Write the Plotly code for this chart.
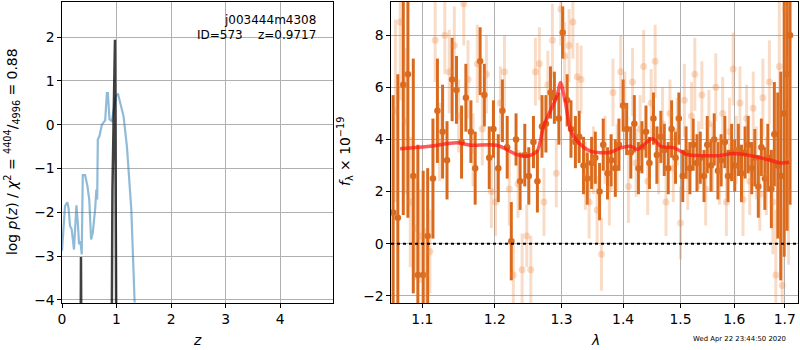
import plotly.graph_objects as go

# ---------------- data: left panel (redshift p(z)) ----------------
pz_z = [0.0, 0.055, 0.098, 0.12, 0.147, 0.178, 0.22, 0.24, 0.264, 0.29, 0.313, 0.338, 0.362,
        0.381, 0.424, 0.466, 0.50, 0.516, 0.534, 0.565, 0.608, 0.63, 0.645, 0.657, 0.687,
        0.731, 0.792, 0.823, 0.841, 0.871, 0.915, 0.95, 0.99, 1.025, 1.068, 1.129, 1.19,
        1.234, 1.271, 1.332]
pz_logp = [-2.88, -1.86, -1.77, -1.90, -2.31, -2.39, -2.85, -2.46, -1.84, -2.24, -2.73, -2.66, -2.96,
           -1.15, -1.15, -1.40, -1.71, -2.16, -2.62, -2.46, -1.93, -1.48, -1.71, -0.34, -0.26,
           0.0, 0.10, 0.72, 0.72, 0.12, 0.08, 0.35, 0.65, 0.71, 0.50, 0.19, -0.49,
           -1.25, -1.93, -4.06]

fine_z = [0.343, 0.348, 0.353, None, 0.913, 0.925, 0.9717, 0.986, 0.995]
fine_logp = [-4.6, -3.02, -4.6, None, -4.6, -1.5, 1.94, -1.5, -4.6]

# ---------------- data: right panel (spectrum) ----------------
wave_a = [1.062, 1.068, 1.075, 1.081, 1.088, 1.094, 1.101, 1.107, 1.114, 1.120, 1.127, 1.133,
          1.140, 1.146, 1.153, 1.159, 1.166, 1.172, 1.179, 1.185, 1.192, 1.198, 1.205, 1.211,
          1.218, 1.224, 1.231, 1.237, 1.244, 1.250, 1.257, 1.263, 1.270, 1.276, 1.283, 1.289,
          1.296, 1.302, 1.309, 1.315, 1.322, 1.328, 1.335, 1.341, 1.348, 1.354, 1.361, 1.367,
          1.374, 1.380, 1.387, 1.393, 1.400, 1.406, 1.413, 1.419, 1.426, 1.432, 1.439, 1.445,
          1.452, 1.458, 1.465, 1.471, 1.478, 1.484, 1.491, 1.497, 1.504, 1.510, 1.517, 1.523,
          1.530, 1.536, 1.543, 1.549, 1.556, 1.562, 1.569, 1.575, 1.582, 1.588, 1.595, 1.601,
          1.608, 1.614, 1.621, 1.627, 1.634, 1.640, 1.647, 1.653, 1.660, 1.666, 1.673, 1.679,
          1.686, 1.692, 1.699, 1.705, 1.711]
flux_a = [1.2, 1.0, 6.1, 6.5, 2.6, -1.2, -1.2, 0.3, 2.5, 5.1, 4.3, 3.2,
          6.3, 5.9, 3.9, 5.6, 4.3, 2.9, 7.0, 5.7, 3.3, 4.4, 2.9, 5.1,
          3.7, 0.1, 4.0, 2.4, 3.4, 2.6, 3.9, 2.4, 4.5, 4.6, 5.8, 5.6,
          4.8, 8.1, 5.5, 4.4, 3.9, 4.1, 3.0, 2.5, 3.1, 3.3, 2.0, 3.8,
          2.7, 3.2, 2.9, 3.8, 5.3, 4.4, 3.5, 4.6, 2.9, 3.7, 4.3, 3.1,
          4.8, 3.4, 4.1, 3.6, 2.9, 4.4, 3.3, 4.8, 2.6, 3.5, 2.9, 3.8,
          3.1, 3.3, 2.6, 3.8, 3.0, 4.0, 2.8, 3.2, 3.9, 2.6, 3.5, 3.0,
          3.6, 2.7, 3.5, 3.8, 2.9, 3.3, 2.2, 3.7, 2.5, 3.3, 2.1, 4.2,
          3.0, 2.6, 5.0, 6.5, 8.0]
err_a = [4.5, 5.5, 5.0, 5.5, 4.5, 5.0, 4.0, 2.6, 2.3, 2.0, 1.8, 1.5,
         1.6, 1.3, 1.4, 1.3, 1.2, 1.4, 1.3, 1.2, 1.2, 1.1, 1.3, 1.2,
         1.2, 1.5, 1.0, 1.1, 1.2, 1.1, 1.0, 1.2, 1.2, 1.1, 1.0, 1.0,
         1.0, 1.0, 1.0, 1.1, 1.0, 1.0, 1.1, 1.0, 1.0, 1.0, 1.1, 1.0,
         1.0, 1.0, 1.1, 1.0, 1.0, 1.0, 1.0, 1.1, 1.0, 1.0, 1.0, 1.0,
         1.0, 1.1, 1.0, 1.0, 1.0, 1.1, 1.0, 1.0, 1.0, 1.0, 1.0, 1.0,
         1.1, 1.0, 1.0, 1.1, 1.0, 1.0, 1.1, 1.0, 1.0, 1.0, 1.1, 1.0,
         1.0, 1.1, 1.0, 1.1, 1.0, 1.1, 1.2, 1.1, 1.2, 1.3, 1.5, 2.0,
         2.8, 4.0, 5.5, 6.0, 6.5]

wave_b = [1.065, 1.071, 1.078, 1.084, 1.091, 1.097, 1.104, 1.110, 1.117, 1.123, 1.130, 1.136,
          1.143, 1.149, 1.156, 1.162, 1.169, 1.175, 1.182, 1.188, 1.195, 1.201, 1.208, 1.214,
          1.221, 1.227, 1.234, 1.240, 1.247, 1.253, 1.260, 1.266, 1.273, 1.279, 1.286, 1.292,
          1.299, 1.305, 1.312, 1.318, 1.325, 1.331, 1.338, 1.344, 1.351, 1.357, 1.364, 1.370,
          1.377, 1.383, 1.390, 1.396, 1.403, 1.409, 1.416, 1.422, 1.429, 1.435, 1.442, 1.448,
          1.455, 1.461, 1.468, 1.474, 1.481, 1.487, 1.494, 1.500, 1.507, 1.513, 1.520, 1.526,
          1.533, 1.539, 1.546, 1.552, 1.559, 1.565, 1.572, 1.578, 1.585, 1.591, 1.598, 1.604,
          1.611, 1.617, 1.624, 1.630, 1.637, 1.643, 1.650, 1.656, 1.663, 1.669, 1.676, 1.682,
          1.689, 1.695, 1.702, 1.708]
flux_b = [5.1, 8.5, 4.7, 1.6, 0.6, 0.3, -1.2, -0.3, 7.8, 3.9, 8.0, 6.6,
          7.6, 4.9, 9.2, 6.3, 3.6, 6.9, 4.4, 6.5, 2.0, 1.6, 5.4, 6.6,
          2.1, -1.2, 2.3, -1.0, 0.3, -1.0, 6.6, 6.9, 1.6, 6.1, 7.8, 2.7,
          9.0, 7.2, 7.6, 8.5, 6.4, 6.3, 2.6, 1.6, 3.2, 1.3, -0.4, 3.6,
          2.1, 5.8, 3.3, 6.6, 5.2, 2.2, 6.2, 3.1, 4.4, 6.8, 2.4, 5.4,
          7.0, 3.2, 4.6, 1.6, 5.0, 2.9, 4.3, 0.8, 5.5, 2.6, 4.9, 6.5,
          3.4, 5.7, 2.1, 4.6, 3.3, 6.0, 2.8, 5.0, 1.6, 4.3, 6.7, 3.6,
          5.4, 1.7, 4.8, 2.4, 5.2, 3.1, 1.9, 5.6, 2.6, 6.2, 1.6, -1.2,
          6.8, -1.6, 9.0, 3.2]
err_b = [3.5, 3.0, 2.8, 2.5, 2.0, 1.8, 1.8, 1.6, 1.6, 1.5, 1.5, 1.6,
         1.5, 1.4, 1.6, 1.5, 1.4, 1.5, 1.4, 1.5, 1.4, 1.3, 1.4, 1.4,
         1.4, 1.4, 1.3, 1.4, 1.2, 1.3, 1.3, 1.4, 1.3, 1.3, 1.4, 1.3,
         1.4, 1.3, 1.4, 1.4, 1.3, 1.3, 1.3, 1.4, 1.3, 1.3, 1.4, 1.3,
         1.4, 1.3, 1.3, 1.4, 1.4, 1.4, 1.3, 1.3, 1.3, 1.4, 1.3, 1.3,
         1.4, 1.3, 1.4, 1.3, 1.3, 1.3, 1.3, 1.4, 1.4, 1.3, 1.3, 1.4,
         1.3, 1.3, 1.4, 1.3, 1.3, 1.3, 1.3, 1.4, 1.3, 1.3, 1.4, 1.3,
         1.4, 1.4, 1.3, 1.3, 1.4, 1.4, 1.4, 1.5, 1.5, 1.6, 2.0, 2.5,
         2.5, 3.0, 3.5, 4.0]

model_wave = [1.0709, 1.1102, 1.1465, 1.1651, 1.2031, 1.2324, 1.2473, 1.2624, 1.2725, 1.2932,
              1.2984, 1.3062, 1.3141, 1.3248, 1.3462, 1.3790, 1.3957, 1.4126, 1.4241, 1.4502,
              1.4648, 1.4885, 1.5126, 1.5370, 1.5683, 1.5997, 1.6322, 1.6653, 1.6922, 1.7092]
model_flux = [3.64, 3.74, 3.87, 3.78, 3.78, 3.42, 3.36, 3.55, 4.51, 5.67,
              6.18, 5.42, 4.38, 3.94, 3.55, 3.51, 3.68, 3.74, 3.62, 4.03,
              3.74, 3.68, 3.42, 3.38, 3.38, 3.46, 3.38, 3.23, 3.10, 3.13]

x_ticks_left = [0, 1, 2, 3, 4]
y_ticks_left = [-4, -3, -2, -1, 0, 1, 2]
x_ticks_right = [1.1, 1.2, 1.3, 1.4, 1.5, 1.6, 1.7]
y_ticks_right = [-2, 0, 2, 4, 6, 8]

obj_name = "j003444m4308"
obj_id = 573
z_best = 0.9717
timestamp = "Wed Apr 22 23:44:50 2020"

# ---------------- figure ----------------
FONT = "DejaVu Sans"
W, H = 800, 350

fig = go.Figure()

fig.add_trace(go.Scatter(x=pz_z, y=pz_logp, mode="lines",
                         line=dict(color="rgba(31,119,180,0.5)", width=2.2),
                         xaxis="x", yaxis="y", showlegend=False, hoverinfo="skip"))
fig.add_trace(go.Scatter(x=fine_z, y=fine_logp, mode="lines",
                         line=dict(color="rgba(0,0,0,0.75)", width=2.5),
                         xaxis="x", yaxis="y", showlegend=False, hoverinfo="skip"))

dark = "#d9691c"
light = "rgba(232,128,55,0.28)"
fig.add_trace(go.Scatter(x=wave_a, y=flux_a, mode="markers",
                         marker=dict(color=dark, size=6.5, line=dict(width=0)),
                         error_y=dict(type="data", array=err_a, visible=True,
                                      thickness=3, width=0, color=dark),
                         xaxis="x2", yaxis="y2", showlegend=False, hoverinfo="skip"))
fig.add_trace(go.Scatter(x=wave_b, y=flux_b, mode="markers",
                         marker=dict(color=light, size=7, line=dict(width=0)),
                         error_y=dict(type="data", array=err_b, visible=True,
                                      thickness=3, width=0, color=light),
                         xaxis="x2", yaxis="y2", showlegend=False, hoverinfo="skip"))
fig.add_trace(go.Scatter(x=model_wave, y=model_flux, mode="lines",
                         line=dict(color="rgba(255,20,20,0.7)", width=3.5, shape="spline", smoothing=0.8),
                         xaxis="x2", yaxis="y2", showlegend=False, hoverinfo="skip"))

ydom = [1 - 303 / H, 1 - 2 / H]
axis_common = dict(showline=True, linecolor="black", linewidth=1.2, mirror=True,
                   ticks="outside", ticklen=3.5, tickcolor="black", tickwidth=1,
                   showgrid=True, gridcolor="#b0b0b0", gridwidth=1, zeroline=False,
                   automargin=False,
                   tickfont=dict(family=FONT, size=13.9, color="black"))

fig.update_layout(
    width=W, height=H,
    margin=dict(l=0, r=0, t=0, b=0, autoexpand=False),
    paper_bgcolor="white", plot_bgcolor="white",
    font=dict(family=FONT, color="black"),
    xaxis=dict(domain=[62 / W, 333 / W], range=[0, 4.97], tickvals=x_ticks_left,
               anchor="y", **axis_common),
    yaxis=dict(domain=ydom, range=[-4.07, 2.8], tickvals=y_ticks_left,
               anchor="x", **axis_common),
    xaxis2=dict(domain=[391 / W, 798 / W], type="log", range=[0.0250, 0.2374],
                tickvals=x_ticks_right, ticktext=[str(v) for v in x_ticks_right],
                anchor="y2", **axis_common),
    yaxis2=dict(domain=ydom, range=[-2.27, 9.27], tickvals=y_ticks_right,
                anchor="x2", **axis_common),
)

fig.add_shape(type="line", xref="x2 domain", yref="y2", x0=0, x1=1, y0=0, y1=0,
              line=dict(color="black", width=2, dash="dot"))

def px(x, y):
    return x / W, 1 - y / H

ann = []
x, y = px(318, 20)
ann.append(dict(x=x, y=y, text=obj_name, xanchor="right", yanchor="middle",
                font=dict(size=12, family=FONT)))
x, y = px(318, 35)
ann.append(dict(x=x, y=y, text=f"ID={obj_id}\u00a0\u00a0\u00a0\u00a0z={z_best:.4f}",
                xanchor="right", yanchor="middle", font=dict(size=12, family=FONT)))
x, y = px(197, 340)
ann.append(dict(x=x, y=y, text="<i>z</i>", xanchor="center", yanchor="middle",
                font=dict(size=13.9, family=FONT)))
x, y = px(595, 340)
ann.append(dict(x=x, y=y, text="<i>λ</i>", xanchor="center", yanchor="middle",
                font=dict(size=13.9, family=FONT)))
x, y = px(12, 152)
ann.append(dict(x=x, y=y,
                text="log <i>p</i>(<i>z</i>) / <i>χ</i><sup>2</sup> = <sup>4404</sup>/<sub>4996</sub> = 0.88",
                textangle=-90, xanchor="center", yanchor="middle",
                font=dict(size=13.9, family=FONT)))
x, y = px(345, 152)
ann.append(dict(x=x, y=y, text="<i>f</i><sub>λ</sub> × 10<sup>−19</sup>",
                textangle=-90, xanchor="center", yanchor="middle",
                font=dict(size=13.9, family=FONT)))
x, y = px(788, 339)
ann.append(dict(x=x, y=y, text=timestamp, xanchor="right", yanchor="middle",
                font=dict(size=6.9, family=FONT)))

for a in ann:
    a.update(xref="paper", yref="paper", showarrow=False)
fig.update_layout(annotations=ann)

fig.write_html("out.html", config={"displayModeBar": False},
               post_script="document.body.style.margin='0';document.body.style.padding='0';")
